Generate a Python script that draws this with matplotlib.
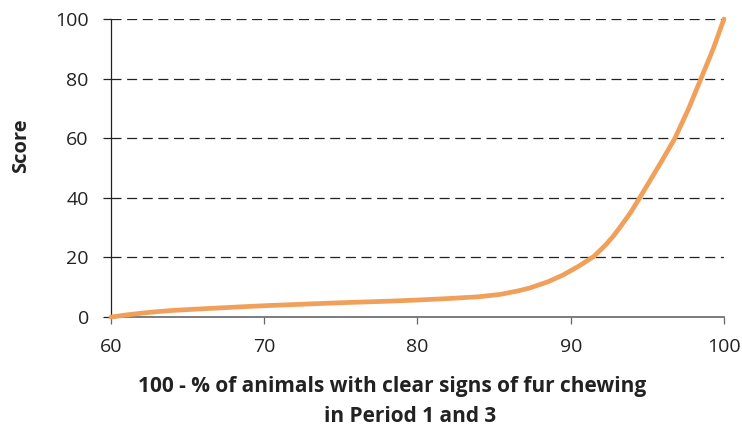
import matplotlib.pyplot as plt
import numpy as np

# values
pct = [60, 61, 62, 63, 64, 65, 66.5, 68, 70, 73, 75, 78, 80, 82, 84, 85.4, 86.5, 87.3, 88.5, 89.5,
       90.5, 91.5, 92.3, 92.8, 93.2, 93.9, 94.5, 95.2, 95.9, 96.8, 97.7, 98.5, 99.3, 100]
score = [0, 0.7, 1.3, 1.8, 2.2, 2.5, 2.9, 3.3, 3.8, 4.4, 4.8, 5.3, 5.7, 6.2, 6.8, 7.6, 8.7, 9.7, 11.8, 14.1,
         17.0, 20.3, 24.3, 27.3, 30.0, 35.0, 40.0, 46.0, 52.0, 60.0, 70.0, 80.0, 90.0, 100]

yticks = [0, 20, 40, 60, 80, 100]
xticks = [60, 70, 80, 90, 100]

plt.rcParams['font.family'] = ['Open Sans', 'DejaVu Sans']

fig = plt.figure(figsize=(7.42, 4.29), dpi=100)
ax = fig.add_axes([0.1496, 0.261, 0.8261, 0.6947])

for y in yticks[1:]:
    ax.axhline(y, color='#222222', lw=0.9, ls=(0, (8, 4.5)), zorder=1)

ax.plot(pct, score, color='#F0A05A', lw=3.4, solid_capstyle='round', solid_joinstyle='round',
        zorder=3, clip_on=False)

ax.set_xlim(60, 100)
ax.set_ylim(0, 100)
ax.set_xticks(xticks)
ax.set_yticks(yticks)
ax.tick_params(axis='both', labelsize=14, colors='#222222', width=0.9)
ax.tick_params(axis='x', length=5, pad=10, color='#666666')
ax.tick_params(axis='y', length=6, pad=10)

for s in ['top', 'right']:
    ax.spines[s].set_visible(False)
ax.spines['left'].set_color('#222222')
ax.spines['bottom'].set_color('#666666')
ax.spines['left'].set_linewidth(0.9)
ax.spines['bottom'].set_linewidth(1.2)

fig.text(21 / 742, 1 - 146 / 429, 'Score', rotation=90, fontsize=14.5, fontweight='bold',
         color='#222222', ha='center', va='center')
fig.text(392 / 742, 1 - 392 / 429, '100 - % of animals with clear signs of fur chewing',
         fontsize=15, fontweight='bold', color='#222222', ha='center', va='baseline')
fig.text(410 / 742, 1 - 422 / 429, 'in Period 1 and 3',
         fontsize=15, fontweight='bold', color='#222222', ha='center', va='baseline')

fig.savefig('out.png', dpi=100)
